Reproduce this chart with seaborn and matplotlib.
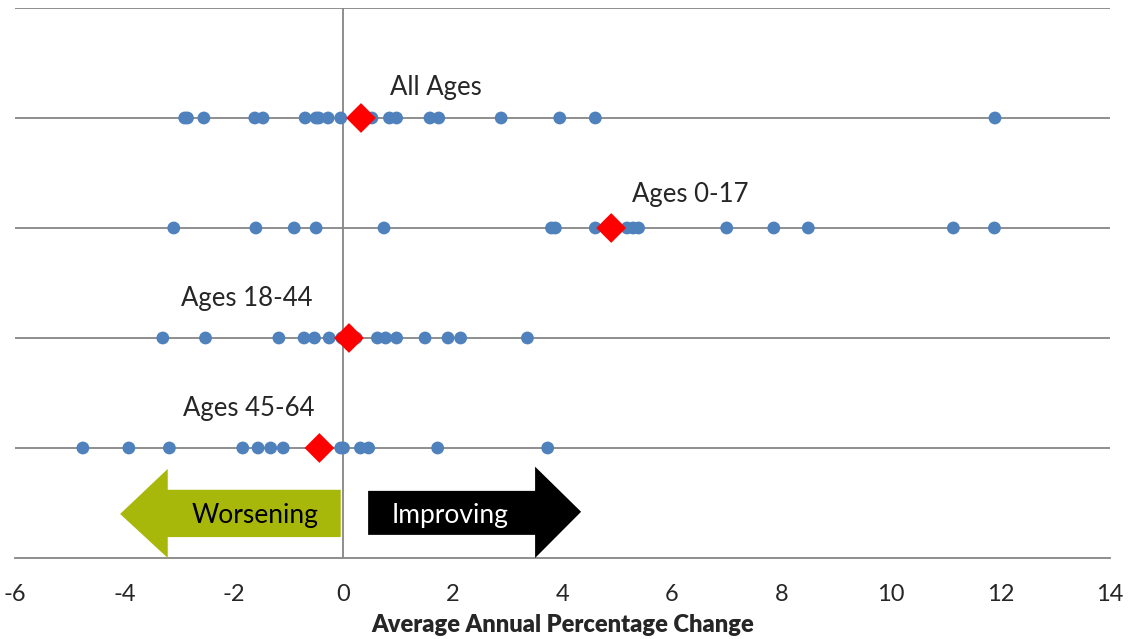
import pandas as pd
import matplotlib.pyplot as plt
import seaborn as sns
import numpy as np
from matplotlib.patches import Polygon

# average annual percentage change per state, by age group
groups = ["All Ages", "Ages 0-17", "Ages 18-44", "Ages 45-64"]
all_ages = [-2.9, -2.85, -2.55, -1.62, -1.47, -0.7, -0.5, -0.45, -0.28, -0.05,
            0.42, 0.52, 0.84, 0.97, 1.58, 1.74, 2.88, 3.95, 4.6, 11.9]
ages_0_17 = [-3.1, -1.6, -0.9, -0.5, 0.74, 3.8, 3.87, 4.6, 5.18, 5.29, 5.39,
             7.0, 7.86, 8.49, 11.14, 11.89]
ages_18_44 = [-3.3, -2.52, -1.18, -0.72, -0.53, -0.26, -0.03, 0.23, 0.62, 0.77,
              0.97, 1.49, 1.91, 2.14, 3.36]
ages_45_64 = [-4.76, -3.92, -3.18, -1.84, -1.56, -1.33, -1.1, -0.05, 0.0, 0.31,
              0.46, 1.72, 3.73]
# group averages (red diamonds)
averages = [0.32, 4.89, 0.1, -0.44]

row = {g: 4 - i for i, g in enumerate(groups)}
df = pd.concat([pd.DataFrame({"group": g, "change": v})
                for g, v in zip(groups, [all_ages, ages_0_17, ages_18_44, ages_45_64])])
df["row"] = df["group"].map(row)
avg = pd.DataFrame({"group": groups, "change": averages})
avg["row"] = avg["group"].map(row)

sns.set_style("white")
plt.rcParams["font.family"] = ["Lato", "DejaVu Sans"]
plt.rcParams["axes.unicode_minus"] = False

fig, ax = plt.subplots(figsize=(11.28, 6.39), dpi=100)
fig.subplots_adjust(left=0.0133, right=0.984, top=0.9875, bottom=0.1268)

grey = "#868686"
sns.scatterplot(data=df, x="change", y="row", color="#4F81BD", s=85,
                edgecolor="none", ax=ax, zorder=3, legend=False)
sns.scatterplot(data=avg, x="change", y="row", color="red", marker="D", s=230,
                edgecolor="none", ax=ax, zorder=4, legend=False)

ax.set_xlim(-6, 14)
ax.set_ylim(0, 5)
ax.set_xticks(np.arange(-6, 15, 2))
ax.set_yticks([1, 2, 3, 4, 5])
ax.set_yticklabels([])
ax.yaxis.grid(True, color=grey, lw=1.3)
ax.xaxis.grid(False)
ax.axvline(0, color=grey, lw=1.3, zorder=1)
for s in ["left", "top", "right"]:
    ax.spines[s].set_visible(False)
ax.spines["bottom"].set_color(grey)
ax.spines["bottom"].set_linewidth(1.3)
ax.tick_params(axis="x", direction="out", length=6, color=grey, width=1.3,
               labelsize=17, pad=13)
ax.tick_params(axis="y", length=0)
ax.set_ylabel("")
ax.set_xlabel("Average Annual Percentage Change", fontsize=17, fontweight="heavy",
              labelpad=6)

# group labels
labels = [(0.85, 4.28, "All Ages"), (5.27, 3.3, "Ages 0-17"),
          (-2.97, 2.36, "Ages 18-44"), (-2.93, 1.36, "Ages 45-64")]
for x, y, t in labels:
    ax.text(x, y, t, fontsize=18.5, ha="left", va="center")

# direction arrows
worse = [(-4.08, 0.4), (-3.21, 0.81), (-3.21, 0.62), (-0.05, 0.62),
         (-0.05, 0.19), (-3.21, 0.19), (-3.21, 0.0)]
better = [(0.45, 0.61), (3.5, 0.61), (3.5, 0.83), (4.34, 0.42),
          (3.5, 0.0), (3.5, 0.21), (0.45, 0.21)]
ax.add_patch(Polygon(worse, closed=True, facecolor="#A8B80B", edgecolor="none",
                     zorder=5, clip_on=False))
ax.add_patch(Polygon(better, closed=True, facecolor="black", edgecolor="none",
                     zorder=5, clip_on=False))
ax.text(-1.62, 0.39, "Worsening", fontsize=19, ha="center", va="center",
        color="black", zorder=6)
ax.text(1.95, 0.39, "Improving", fontsize=19, ha="center", va="center",
        color="white", zorder=6)

plt.savefig("out.png", dpi=100)
